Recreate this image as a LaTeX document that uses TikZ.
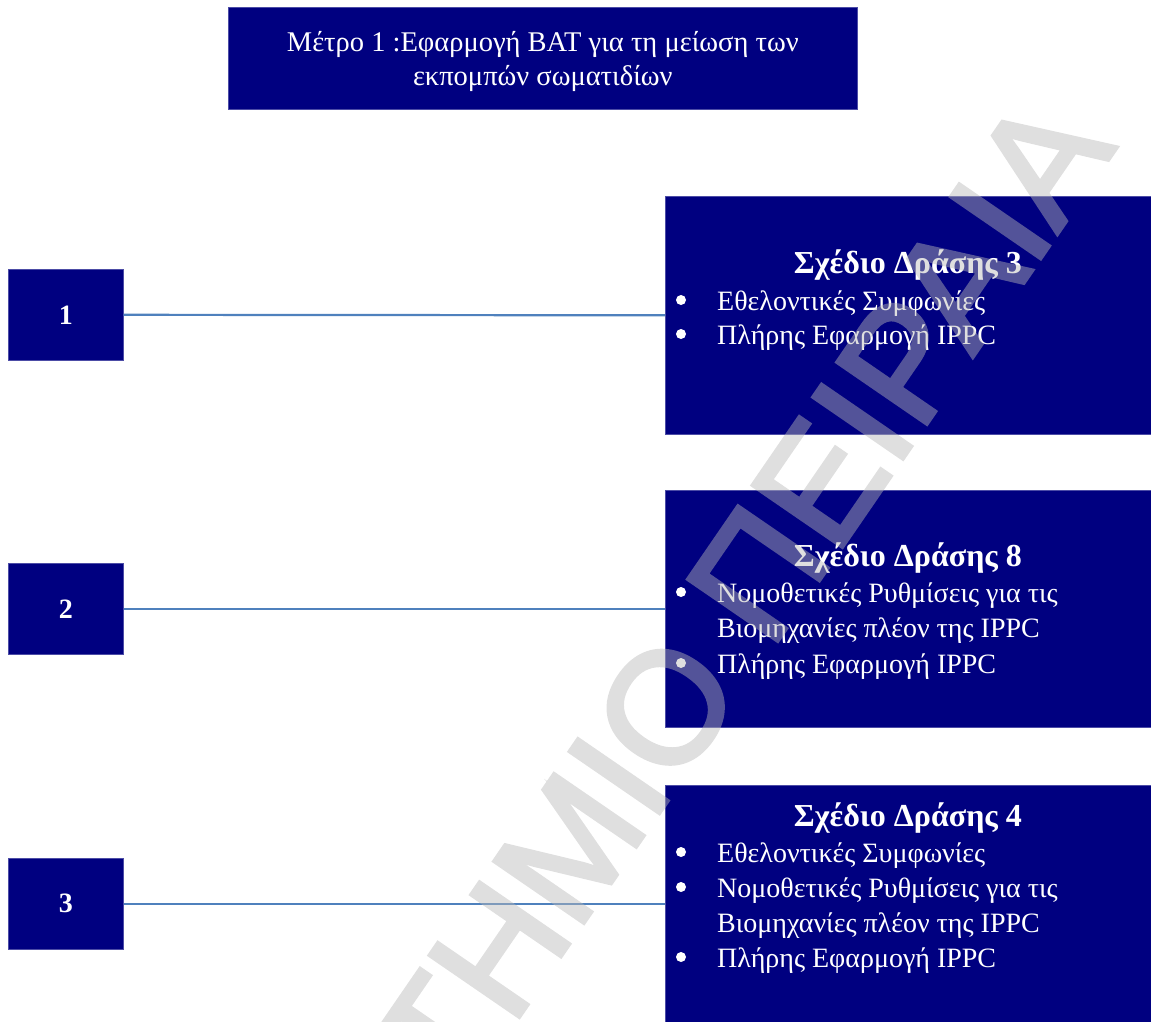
\documentclass[tikz,border=0pt]{standalone}
\usepackage{fontspec}
\setmainfont{Liberation Serif}
\newfontfamily\wmfont[FakeBold=2.6]{Liberation Sans}
\definecolor{boxnavy}{RGB}{0,0,128}
\definecolor{linkblue}{RGB}{79,129,189}
\definecolor{wmgray}{RGB}{185,185,185}
\begin{document}
\begin{tikzpicture}[x=1pt,y=-1pt,
  navybox/.style={fill=boxnavy, draw=boxnavy!70!white, line width=0.6pt, inner sep=0pt, anchor=north west},
  numbox/.style={navybox, minimum width=115pt, minimum height=91pt, text=white, font=\fontsize{28}{34}\selectfont\bfseries},
  planbox/.style={navybox, minimum width=487pt, minimum height=237pt},
  plantitle/.style={anchor=base, inner sep=0pt, text=white, font=\fontsize{32}{38}\selectfont\bfseries},
  item/.style={anchor=base west, inner sep=0pt, text=white, font=\fontsize{28}{34}\selectfont},
  link/.style={draw=linkblue, line width=2.2pt},
  wm/.style={inner sep=0pt, text=wmgray, anchor=base east, rotate=55.5, font=\wmfont\fontsize{158}{158}\selectfont}
]
\useasboundingbox (0,0) rectangle (1151,1021);

% title
\node[navybox, minimum width=629pt, minimum height=102pt] (title) at (228,7) {};
\node[align=center, text=white, inner sep=0pt, yshift=-3pt,
      font=\fontsize{28.5}{34}\selectfont] (titletext) at (title.center)
  {Μέτρο 1 :Εφαρμογή BAT για τη μείωση των\\εκπομπών σωματιδίων};

% number boxes
\node[numbox] (n1) at (8,269) {1};
\node[numbox] (n2) at (8,563) {2};
\node[numbox] (n3) at (8,858) {3};

% plan boxes
\node[planbox, minimum height=238pt] (r1) at (665,196) {};
\node[planbox] (r2) at (665,490) {};
\node[planbox] (r3) at (665,785) {};

% connectors
\draw[link] (n1.east) -- (r1.west);
\draw[link] (n2.east) -- (r2.west);
\draw[link] (n3.east) -- (r3.west);

% plan 3
\node[plantitle] (t1) at (908,273) {Σχέδιο Δράσης 3};
\node[item] (a1) at (717,310) {Εθελοντικές Συμφωνίες};
\node[item] (a2) at (717,344) {Πλήρης Εφαρμογή IPPC};
\fill[white] (681,300) circle (5);
\fill[white] (681,334) circle (5);

% plan 8
\node[plantitle] (t2) at (908,566) {Σχέδιο Δράσης 8};
\node[item] (b1) at (717,602) {Νομοθετικές Ρυθμίσεις για τις};
\node[item] (b2) at (717,637) {Βιομηχανίες πλέον της IPPC};
\node[item] (b3) at (717,673) {Πλήρης Εφαρμογή IPPC};
\fill[white] (681,592) circle (5);
\fill[white] (681,663) circle (5);

% plan 4
\node[plantitle] (t3) at (908,826) {Σχέδιο Δράσης 4};
\node[item] (c1) at (717,862) {Εθελοντικές Συμφωνίες};
\node[item] (c2) at (717,897) {Νομοθετικές Ρυθμίσεις για τις};
\node[item] (c3) at (717,932) {Βιομηχανίες πλέον της IPPC};
\node[item] (c4) at (717,967) {Πλήρης Εφαρμογή IPPC};
\fill[white] (681,852) circle (5);
\fill[white] (681,887) circle (5);
\fill[white] (681,957) circle (5);

% watermark
\begin{scope}
\clip (0,0) rectangle (1151,1021);
\begin{scope}[transparency group, opacity=0.45, line join=round, miter limit=1]
\node[wm] (wmark) at (1117,147) {ΠΑΝΕΠΙΣΤΗΜΙΟ ΠΕΙΡΑΙΑ};
\end{scope}
\end{scope}
\end{tikzpicture}
\end{document}
